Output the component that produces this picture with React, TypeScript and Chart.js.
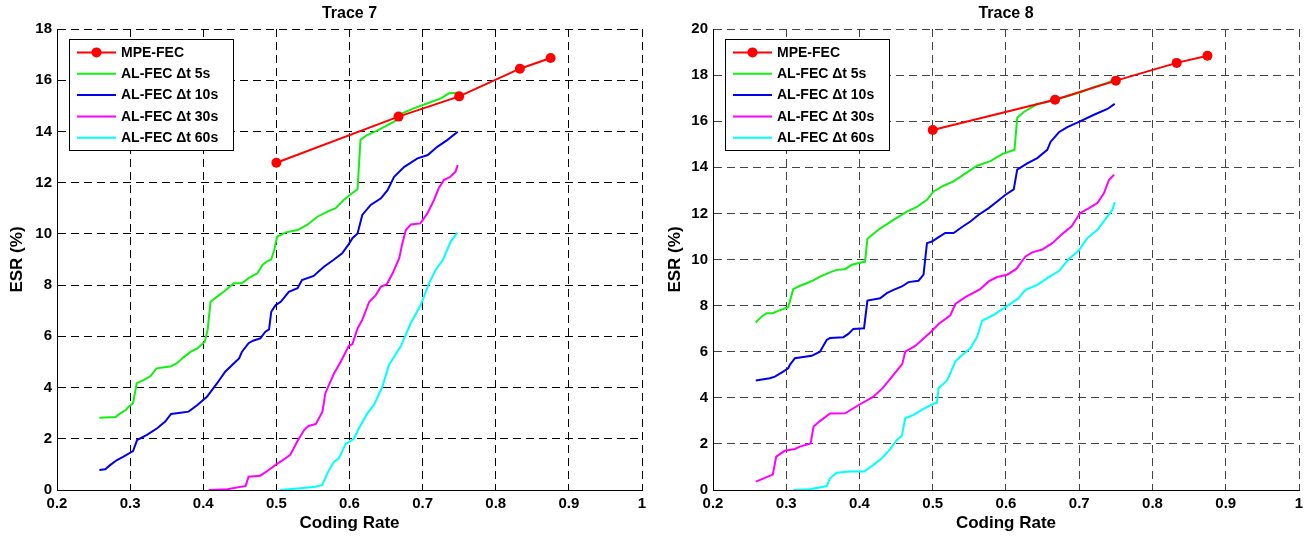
import React, { useEffect, useRef } from 'react';
import { Chart, registerables } from 'chart.js';

Chart.register(...registerables);

const FONT = "'Liberation Sans', Arial, Helvetica, sans-serif";

// ---------- shared labels / colours ----------
const seriesLabels = ['MPE-FEC', 'AL-FEC \u0394t 5s', 'AL-FEC \u0394t 10s', 'AL-FEC \u0394t 30s', 'AL-FEC \u0394t 60s'];
const seriesColors = ['#ff0000', '#11f011', '#0000ee', '#ff00ff', '#00ffff'];
const xTickLabels = ['0.2', '0.3', '0.4', '0.5', '0.6', '0.7', '0.8', '0.9', '1'];
const t7YTickLabels = ['0', '2', '4', '6', '8', '10', '12', '14', '16', '18'];
const t8YTickLabels = ['0', '2', '4', '6', '8', '10', '12', '14', '16', '18', '20'];

// ---------- MPE-FEC (both traces) ----------
const mpeRates = [0.5, 0.667, 0.75, 0.833, 0.875];
const t7Mpe = [12.78, 14.58, 15.37, 16.45, 16.87];
const t8Mpe = [15.62, 16.93, 17.76, 18.53, 18.84];

// ---------- Trace 7 ----------
const t7A5x = [0.258, 0.28, 0.287, 0.294, 0.298, 0.304, 0.309, 0.319, 0.328, 0.336, 0.355, 0.364, 0.373, 0.383, 0.392, 0.402, 0.406, 0.41, 0.419, 0.428, 0.442, 0.453, 0.462, 0.474, 0.481, 0.488, 0.493, 0.497, 0.501, 0.513, 0.529, 0.542, 0.556, 0.57, 0.581, 0.592, 0.603, 0.611, 0.615, 0.624, 0.638, 0.652, 0.665, 0.672, 0.688, 0.707, 0.725, 0.736, 0.75];
const t7A5y = [2.82, 2.85, 3.0, 3.12, 3.25, 3.39, 4.17, 4.3, 4.45, 4.75, 4.82, 4.95, 5.18, 5.4, 5.53, 5.79, 6.25, 7.35, 7.55, 7.74, 8.07, 8.07, 8.27, 8.46, 8.79, 8.94, 9.0, 9.37, 9.89, 10.06, 10.15, 10.35, 10.67, 10.87, 11.0, 11.32, 11.58, 11.74, 13.67, 13.86, 14.03, 14.25, 14.45, 14.71, 14.9, 15.1, 15.29, 15.49, 15.51];

const t7A10x = [0.258, 0.266, 0.273, 0.282, 0.291, 0.304, 0.3095, 0.323, 0.337, 0.348, 0.356, 0.369, 0.38, 0.392, 0.405, 0.419, 0.43, 0.442, 0.449, 0.453, 0.462, 0.468, 0.478, 0.485, 0.49, 0.493, 0.499, 0.506, 0.517, 0.529, 0.535, 0.551, 0.565, 0.578, 0.59, 0.599, 0.604, 0.611, 0.6175, 0.629, 0.643, 0.652, 0.661, 0.675, 0.693, 0.707, 0.72, 0.734, 0.748];
const t7A10y = [0.78, 0.81, 0.98, 1.17, 1.3, 1.52, 1.95, 2.15, 2.41, 2.67, 2.97, 3.02, 3.06, 3.32, 3.64, 4.17, 4.62, 4.95, 5.14, 5.4, 5.73, 5.83, 5.92, 6.18, 6.27, 6.96, 7.22, 7.35, 7.74, 7.88, 8.2, 8.36, 8.72, 8.98, 9.24, 9.6, 9.83, 10.02, 10.74, 11.13, 11.39, 11.71, 12.23, 12.62, 12.95, 13.08, 13.4, 13.67, 13.99];

const t7A30x = [0.4075, 0.433, 0.458, 0.462, 0.478, 0.488, 0.499, 0.5125, 0.519, 0.5285, 0.538, 0.544, 0.554, 0.563, 0.567, 0.579, 0.588, 0.599, 0.604, 0.611, 0.6175, 0.627, 0.636, 0.643, 0.651, 0.659, 0.668, 0.672, 0.677, 0.684, 0.697, 0.7065, 0.7155, 0.722, 0.729, 0.738, 0.745, 0.748];
const t7A30y = [0.0, 0.03, 0.16, 0.52, 0.56, 0.75, 0.98, 1.24, 1.37, 1.89, 2.34, 2.5, 2.58, 3.06, 3.78, 4.56, 5.01, 5.62, 5.7, 6.31, 6.64, 7.35, 7.61, 7.94, 8.03, 8.46, 9.05, 9.6, 10.15, 10.37, 10.41, 10.8, 11.32, 11.78, 12.1, 12.23, 12.43, 12.69];

const t7A60x = [0.5057, 0.533, 0.5536, 0.5628, 0.5696, 0.5787, 0.5855, 0.5947, 0.606, 0.6129, 0.6244, 0.6334, 0.6449, 0.6539, 0.67, 0.6837, 0.6974, 0.7087, 0.7178, 0.728, 0.7384, 0.7475];
const t7A60y = [0.0, 0.07, 0.13, 0.2, 0.65, 1.1, 1.24, 1.8, 2.0, 2.41, 2.99, 3.32, 4.03, 4.88, 5.6, 6.51, 7.22, 8.07, 8.59, 9.0, 9.7, 10.05];

// ---------- Trace 8 ----------
const t8A5x = [0.2584, 0.2662, 0.2731, 0.2813, 0.289, 0.3027, 0.3095, 0.3187, 0.3278, 0.3369, 0.346, 0.3597, 0.3689, 0.3803, 0.3894, 0.4076, 0.4108, 0.4258, 0.4464, 0.4647, 0.4784, 0.4921, 0.5011, 0.5148, 0.5285, 0.5422, 0.5605, 0.5787, 0.5947, 0.6116, 0.6153, 0.6243, 0.6427, 0.6608, 0.6837, 0.7019, 0.7201, 0.7385, 0.7484];
const t8A5y = [7.27, 7.52, 7.67, 7.67, 7.77, 7.93, 8.71, 8.86, 8.97, 9.09, 9.26, 9.44, 9.55, 9.58, 9.77, 9.91, 10.9, 11.29, 11.72, 12.08, 12.28, 12.59, 12.95, 13.2, 13.39, 13.68, 14.07, 14.27, 14.57, 14.76, 16.15, 16.4, 16.74, 16.88, 17.08, 17.25, 17.49, 17.66, 17.83];

const t8A10x = [0.2584, 0.2776, 0.2845, 0.2936, 0.3027, 0.305, 0.3118, 0.3347, 0.346, 0.3552, 0.3597, 0.378, 0.3848, 0.3916, 0.4062, 0.4108, 0.4282, 0.4373, 0.4464, 0.4579, 0.4669, 0.4806, 0.4874, 0.4921, 0.4989, 0.508, 0.5171, 0.5285, 0.54, 0.5514, 0.5627, 0.5764, 0.5879, 0.5993, 0.6106, 0.6153, 0.629, 0.6427, 0.6563, 0.6608, 0.6722, 0.6837, 0.6996, 0.7201, 0.7385, 0.7484];
const t8A10y = [4.75, 4.85, 4.92, 5.09, 5.28, 5.43, 5.72, 5.82, 6.0, 6.51, 6.59, 6.63, 6.77, 6.99, 7.02, 8.22, 8.32, 8.54, 8.68, 8.83, 9.02, 9.08, 9.34, 10.71, 10.78, 10.97, 11.15, 11.15, 11.41, 11.65, 11.94, 12.23, 12.52, 12.81, 13.04, 13.9, 14.17, 14.4, 14.76, 15.1, 15.52, 15.74, 15.97, 16.28, 16.53, 16.75];

const t8A30x = [0.2584, 0.2817, 0.2863, 0.298, 0.3118, 0.3187, 0.3333, 0.3373, 0.346, 0.3597, 0.3803, 0.4008, 0.419, 0.4316, 0.4464, 0.4585, 0.4624, 0.4761, 0.4886, 0.4966, 0.508, 0.524, 0.5308, 0.5456, 0.5643, 0.5764, 0.5879, 0.6016, 0.6141, 0.6266, 0.6358, 0.6495, 0.6631, 0.6768, 0.6893, 0.701, 0.7133, 0.7248, 0.7338, 0.7407, 0.7475];
const t8A30y = [0.36, 0.67, 1.45, 1.7, 1.78, 1.88, 2.02, 2.75, 2.99, 3.32, 3.33, 3.72, 4.05, 4.42, 4.99, 5.47, 6.0, 6.25, 6.6, 6.83, 7.2, 7.58, 8.07, 8.39, 8.7, 9.05, 9.24, 9.34, 9.59, 10.13, 10.31, 10.43, 10.71, 11.11, 11.43, 12.01, 12.23, 12.45, 12.88, 13.46, 13.68];

const t8A60x = [0.3095, 0.3324, 0.3552, 0.3597, 0.3689, 0.3871, 0.4063, 0.419, 0.4305, 0.4419, 0.451, 0.4579, 0.4624, 0.4738, 0.4874, 0.5011, 0.5057, 0.508, 0.5195, 0.5308, 0.54, 0.5514, 0.5605, 0.5674, 0.5833, 0.5993, 0.6164, 0.6266, 0.6427, 0.6563, 0.6722, 0.6859, 0.6996, 0.711, 0.7248, 0.7385, 0.7453, 0.7484];
const t8A60y = [0.0, 0.03, 0.17, 0.51, 0.75, 0.8, 0.8, 1.09, 1.38, 1.77, 2.17, 2.35, 3.11, 3.26, 3.52, 3.74, 3.79, 4.42, 4.74, 5.57, 5.86, 6.15, 6.64, 7.34, 7.6, 7.93, 8.3, 8.68, 8.9, 9.19, 9.5, 10.02, 10.4, 10.93, 11.29, 11.87, 12.16, 12.49];

// ---------- helpers ----------
const toPoints = (xs: number[], ys: number[]) => xs.map((x, i) => ({ x, y: ys[i] }));

const insideLegend = {
  id: 'insideLegend',
  afterDatasetsDraw(chart: any, _args: any, opts: any) {
    const { ctx, chartArea } = chart;
    const x0 = Math.round(chartArea.left + opts.offsetX);
    const y0 = Math.round(chartArea.top + opts.offsetY);
    const w = opts.width;
    const h = opts.height;
    ctx.save();
    ctx.fillStyle = '#ffffff';
    ctx.fillRect(x0, y0, w, h);
    ctx.strokeStyle = '#000000';
    ctx.lineWidth = 1;
    ctx.setLineDash([]);
    ctx.strokeRect(x0 + 0.5, y0 + 0.5, w, h);
    ctx.font = `bold 14px ${FONT}`;
    ctx.textBaseline = 'middle';
    ctx.textAlign = 'left';
    chart.data.datasets.forEach((ds: any, i: number) => {
      const y = y0 + opts.firstRow + i * opts.rowGap;
      ctx.strokeStyle = ds.borderColor;
      ctx.lineWidth = 2;
      ctx.beginPath();
      ctx.moveTo(x0 + 8, y);
      ctx.lineTo(x0 + 47, y);
      ctx.stroke();
      if (ds.pointRadius > 0) {
        ctx.fillStyle = ds.borderColor;
        ctx.beginPath();
        ctx.arc(x0 + 27.5, y, ds.pointRadius, 0, Math.PI * 2);
        ctx.fill();
      }
      ctx.fillStyle = '#000000';
      ctx.fillText(ds.label, x0 + 52, y + 0.5);
    });
    ctx.restore();
  },
};

type Series = { xs: number[]; ys: number[] };

type PanelProps = {
  title: string;
  series: Series[];
  yMax: number;
  yTickLabels: string[];
  width: number;
  yWidth: number;
  padRight: number;
  yTitlePad: number;
  gridColor: string;
};

function Panel(props: PanelProps) {
  const ref = useRef<HTMLCanvasElement | null>(null);
  useEffect(() => {
    if (!ref.current) return;
    const datasets = props.series.map((s, i) => ({
      label: seriesLabels[i],
      data: toPoints(s.xs, s.ys),
      borderColor: seriesColors[i],
      backgroundColor: seriesColors[i],
      borderWidth: 2,
      pointRadius: i === 0 ? 5 : 0,
      pointHoverRadius: i === 0 ? 5 : 0,
      pointBorderWidth: 0,
      tension: 0,
      fill: false,
    }));
    const chart = new Chart(ref.current, {
      type: 'line',
      data: { datasets },
      plugins: [insideLegend],
      options: {
        animation: false,
        responsive: false,
        devicePixelRatio: 1,
        layout: { padding: { left: 0, right: props.padRight, top: 0, bottom: 0 } },
        plugins: {
          legend: { display: false },
          tooltip: { enabled: false },
          title: {
            display: true,
            text: props.title,
            fullSize: false,
            color: '#000',
            font: { family: FONT, size: 16, weight: 'bold', lineHeight: 1.2 },
            padding: { top: 4, bottom: 5.8 },
          },
          insideLegend: { offsetX: 12.3, offsetY: 10, width: 164, height: 111, firstRow: 13.4, rowGap: 21.35 },
        } as any,
        scales: {
          x: {
            type: 'linear',
            min: 0.2,
            max: 1,
            ticks: {
              stepSize: 0.1,
              color: '#000',
              font: { family: FONT, size: 15, weight: 'bold' },
              padding: 5,
              maxRotation: 0,
              autoSkip: false,
              callback: (_v: any, idx: number) => xTickLabels[idx],
            },
            grid: { color: props.gridColor, lineWidth: 1, drawTicks: false },
            border: { display: true, color: '#000', width: 1, dash: [8, 5] },
            title: {
              display: true,
              text: 'Coding Rate',
              color: '#000',
              font: { family: FONT, size: 17, weight: 'bold', lineHeight: 1.2 },
              padding: { top: 0, bottom: 4 },
            },
            afterFit: (scale: any) => {
              scale.height = 48;
            },
          },
          y: {
            type: 'linear',
            min: 0,
            max: props.yMax,
            ticks: {
              stepSize: 2,
              color: '#000',
              font: { family: FONT, size: 15, weight: 'bold' },
              padding: 5,
              autoSkip: false,
              callback: (_v: any, idx: number) => props.yTickLabels[idx],
            },
            grid: { color: props.gridColor, lineWidth: 1, drawTicks: false },
            border: { display: true, color: '#000', width: 1, dash: [8, 5] },
            title: {
              display: true,
              text: 'ESR (%)',
              color: '#000',
              font: { family: FONT, size: 17, weight: 'bold', lineHeight: 1.2 },
              padding: { top: props.yTitlePad, bottom: 0 },
            },
            afterFit: (scale: any) => {
              scale.width = props.yWidth;
            },
          },
        },
      } as any,
    });
    return () => chart.destroy();
  }, []);
  return (
    <div style={{ position: 'relative', width: props.width, height: 538 }}>
      <canvas ref={ref} width={props.width} height={538} style={{ display: 'block' }} />
    </div>
  );
}

export default function App() {
  const trace7: Series[] = [
    { xs: mpeRates, ys: t7Mpe },
    { xs: t7A5x, ys: t7A5y },
    { xs: t7A10x, ys: t7A10y },
    { xs: t7A30x, ys: t7A30y },
    { xs: t7A60x, ys: t7A60y },
  ];
  const trace8: Series[] = [
    { xs: mpeRates, ys: t8Mpe },
    { xs: t8A5x, ys: t8A5y },
    { xs: t8A10x, ys: t8A10y },
    { xs: t8A30x, ys: t8A30y },
    { xs: t8A60x, ys: t8A60y },
  ];
  return (
    <div style={{ position: 'absolute', left: 0, top: 0, width: 1311, height: 538, background: '#fff', display: 'flex' }}>
      <Panel title="Trace 7" series={trace7} yMax={18} yTickLabels={t7YTickLabels} width={655} yWidth={57} padRight={13} yTitlePad={7} gridColor="#000" />
      <Panel title="Trace 8" series={trace8} yMax={20} yTickLabels={t8YTickLabels} width={656} yWidth={58} padRight={12} yTitlePad={10} gridColor="#444" />
    </div>
  );
}
